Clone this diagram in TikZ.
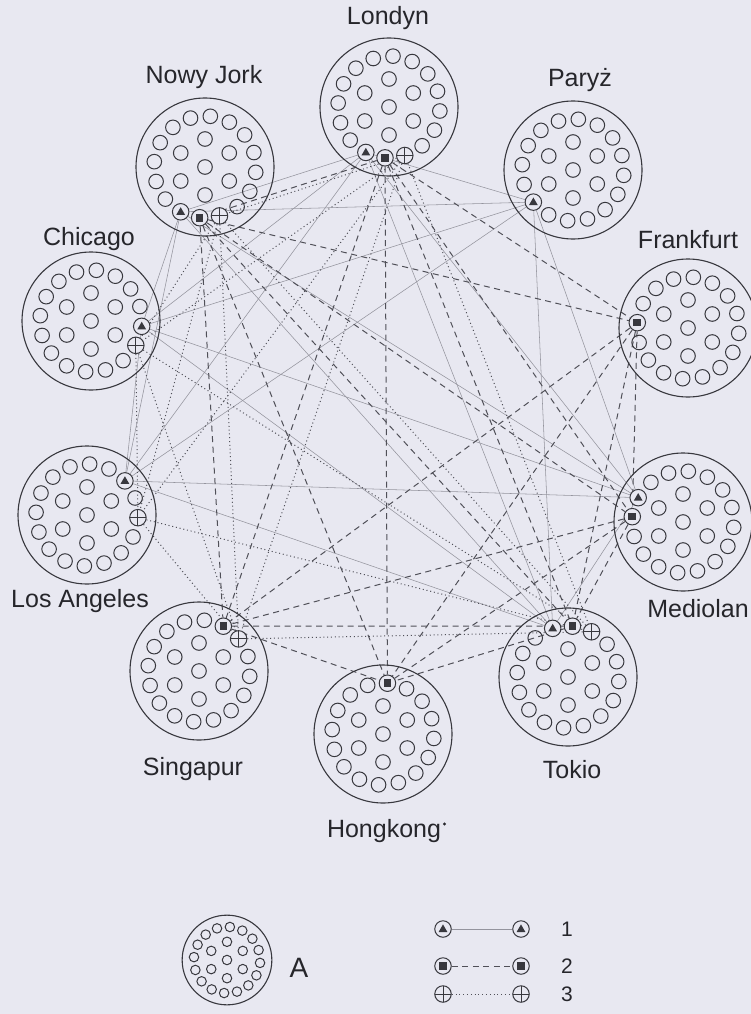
\documentclass[tikz,border=0pt]{standalone}
\usepackage{fontspec}
\setmainfont{Liberation Sans}
\usetikzlibrary{calc}
\definecolor{paper}{HTML}{E8E8F1}
\definecolor{ink}{HTML}{38383E}
\definecolor{txt}{HTML}{26262B}
\definecolor{lnk}{HTML}{505058}
\definecolor{thinc}{HTML}{94949E}
\pgfdeclarelayer{bglayer}
\pgfdeclarelayer{linelayer}
\pgfsetlayers{bglayer,linelayer,main}
\tikzset{
  bigc/.style={draw=ink, line width=1.1pt},
  smallc/.style={draw=ink, line width=1pt},
  mk/.style={circle, draw=ink, line width=1pt, fill=paper, minimum size=16.5pt, inner sep=0pt},
  mkA/.style={mk, path picture={\fill[ink] ([yshift=4.6pt]path picture bounding box.center) -- ++(-4.4pt,-7.6pt) -- ++(8.8pt,0pt) -- cycle;}},
  mkB/.style={mk, path picture={\fill[ink] ([shift={(-3.8pt,-3.8pt)}]path picture bounding box.center) rectangle ++(7.6pt,7.6pt);}},
  mkC/.style={mk, path picture={\draw[ink,line width=0.9pt] ([xshift=-9pt]path picture bounding box.center) -- ++(18pt,0pt) ([yshift=-9pt]path picture bounding box.center) -- ++(0pt,18pt);}},
  conA/.style={draw=thinc, line width=0.55pt},
  conB/.style={draw=lnk, line width=1pt, dash pattern=on 6pt off 4.5pt},
  conC/.style={draw=lnk, line width=1pt, dash pattern=on 1pt off 2.8pt},
  city/.style={anchor=base, text=txt, font=\fontsize{25}{30}\selectfont, inner sep=0pt},
  leg/.style={anchor=base, text=txt, font=\fontsize{21}{25}\selectfont, inner sep=0pt}
}
\newcommand{\cityring}[2]{%
  \draw[bigc] (0,0) circle[radius={69pt*#1}];
  \foreach \a in {0,22.5,...,337.5} \draw[smallc] ({#2+\a}:{51pt*#1}) circle[radius={7.3pt*#1}];
  \foreach \a in {30,90,...,330} \draw[smallc] ({\a}:{28pt*#1}) circle[radius={7.3pt*#1}];
  \draw[smallc] (0,0) circle[radius={7.3pt*#1}];
}
\begin{document}
\begin{tikzpicture}[x=1pt,y=-1pt]
\useasboundingbox (0,0) rectangle (751,1014);
\begin{pgfonlayer}{bglayer}
  \fill[paper] (0,0) rectangle (751,1014);
\end{pgfonlayer}

% Londyn
\begin{scope}[shift={(389,107)}]
  \cityring{1}{-4.5}
  \node[mkA] (LonA) at (-117:51pt) {};
  \node[mkB] (LonB) at (-94.5:51pt) {};
  \node[mkC] (LonC) at (-72:51pt) {};
\end{scope}
\node[city] (tLon) at (388,25) {Londyn};

% Nowy Jork
\begin{scope}[shift={(205,167)}]
  \cityring{1}{-6}
  \node[mkA] (NYA) at (-118.5:51pt) {};
  \node[mkB] (NYB) at (-96:51pt) {};
  \node[mkC] (NYC) at (-73.5:51pt) {};
\end{scope}
\node[city] (tNY) at (204,84) {Nowy Jork};

% Paryz
\begin{scope}[shift={(573,170)}]
  \cityring{1}{-6}
  \node[mkA] (ParA) at (-141:51pt) {};
\end{scope}
\node[city] (tPar) at (580,87) {Paryż};

% Frankfurt
\begin{scope}[shift={(688,328)}]
  \cityring{1}{-6}
  \node[mkB] (FraB) at (174:51pt) {};
\end{scope}
\node[city] (tFra) at (688,248) {Frankfurt};

% Chicago
\begin{scope}[shift={(91,321)}]
  \cityring{1}{-6}
  \node[mkA] (ChiA) at (-6:51pt) {};
  \node[mkC] (ChiC) at (-28.5:51pt) {};
\end{scope}
\node[city] (tChi) at (89,245) {Chicago};

% Los Angeles
\begin{scope}[shift={(87,515)}]
  \cityring{1}{-3}
  \node[mkA] (LAA) at (42:51pt) {};
  \node[mkC] (LAC) at (-3:51pt) {};
\end{scope}
\node[city] (tLA) at (80,607) {Los Angeles};

% Mediolan
\begin{scope}[shift={(683,522)}]
  \cityring{1}{-6}
  \node[mkA] (MilA) at (151.5:51pt) {};
  \node[mkB] (MilB) at (174:51pt) {};
\end{scope}
\node[city] (tMil) at (698,617) {Mediolan};

% Singapur
\begin{scope}[shift={(199,671)}]
  \cityring{1}{-6}
  \node[mkB] (SinB) at (61.5:51pt) {};
  \node[mkC] (SinC) at (39:51pt) {};
\end{scope}
\node[city] (tSin) at (193,775) {Singapur};

% Tokio
\begin{scope}[shift={(568,677)}]
  \cityring{1}{-5}
  \node[mkA] (TokA) at (107.5:51pt) {};
  \node[mkB] (TokB) at (85:51pt) {};
  \node[mkC] (TokC) at (62.5:51pt) {};
\end{scope}
\node[city] (tTok) at (572,778) {Tokio};

% Hongkong
\begin{scope}[shift={(383,734)}]
  \cityring{1}{-5}
  \node[mkB] (HKB) at (85:51pt) {};
\end{scope}
\node[city] (tHK) at (384,837) {Hongkong};
\fill[txt] (444.5,824) circle[radius=1.7pt];

% connectors
\begin{pgfonlayer}{linelayer}
\foreach \p [count=\i] in {LonA,NYA,ParA,ChiA,LAA,MilA,TokA}{
  \foreach \q [count=\j] in {LonA,NYA,ParA,ChiA,LAA,MilA,TokA}{
    \ifnum\j>\i \draw[conA] (\p) -- (\q); \fi
  }
}
\foreach \p [count=\i] in {LonB,NYB,FraB,MilB,SinB,TokB,HKB}{
  \foreach \q [count=\j] in {LonB,NYB,FraB,MilB,SinB,TokB,HKB}{
    \ifnum\j>\i \draw[conB] (\p) -- (\q); \fi
  }
}
\foreach \p [count=\i] in {LonC,NYC,ChiC,LAC,SinC,TokC}{
  \foreach \q [count=\j] in {LonC,NYC,ChiC,LAC,SinC,TokC}{
    \ifnum\j>\i \draw[conC] (\p) -- (\q); \fi
  }
}
\end{pgfonlayer}

% legend
\begin{scope}[shift={(227,960)}]
  \cityring{0.65}{-5}
\end{scope}
\node[anchor=base, text=txt, font=\fontsize{28}{32}\selectfont, inner sep=0pt] (tA) at (299,977) {A};

\node[mkA] (LgA1) at (443,929) {};
\node[mkA] (LgA2) at (521,929) {};
\node[mkB] (LgB1) at (443,966) {};
\node[mkB] (LgB2) at (521,966) {};
\node[mkC] (LgC1) at (443,994) {};
\node[mkC] (LgC2) at (521,994) {};
\draw[conA] (LgA1) -- (LgA2);
\draw[conB] (LgB1) -- (LgB2);
\draw[conC] (LgC1) -- (LgC2);
\node[leg] (l1) at (567,936) {1};
\node[leg] (l2) at (567,973) {2};
\node[leg] (l3) at (567,1001) {3};
\end{tikzpicture}
\end{document}
